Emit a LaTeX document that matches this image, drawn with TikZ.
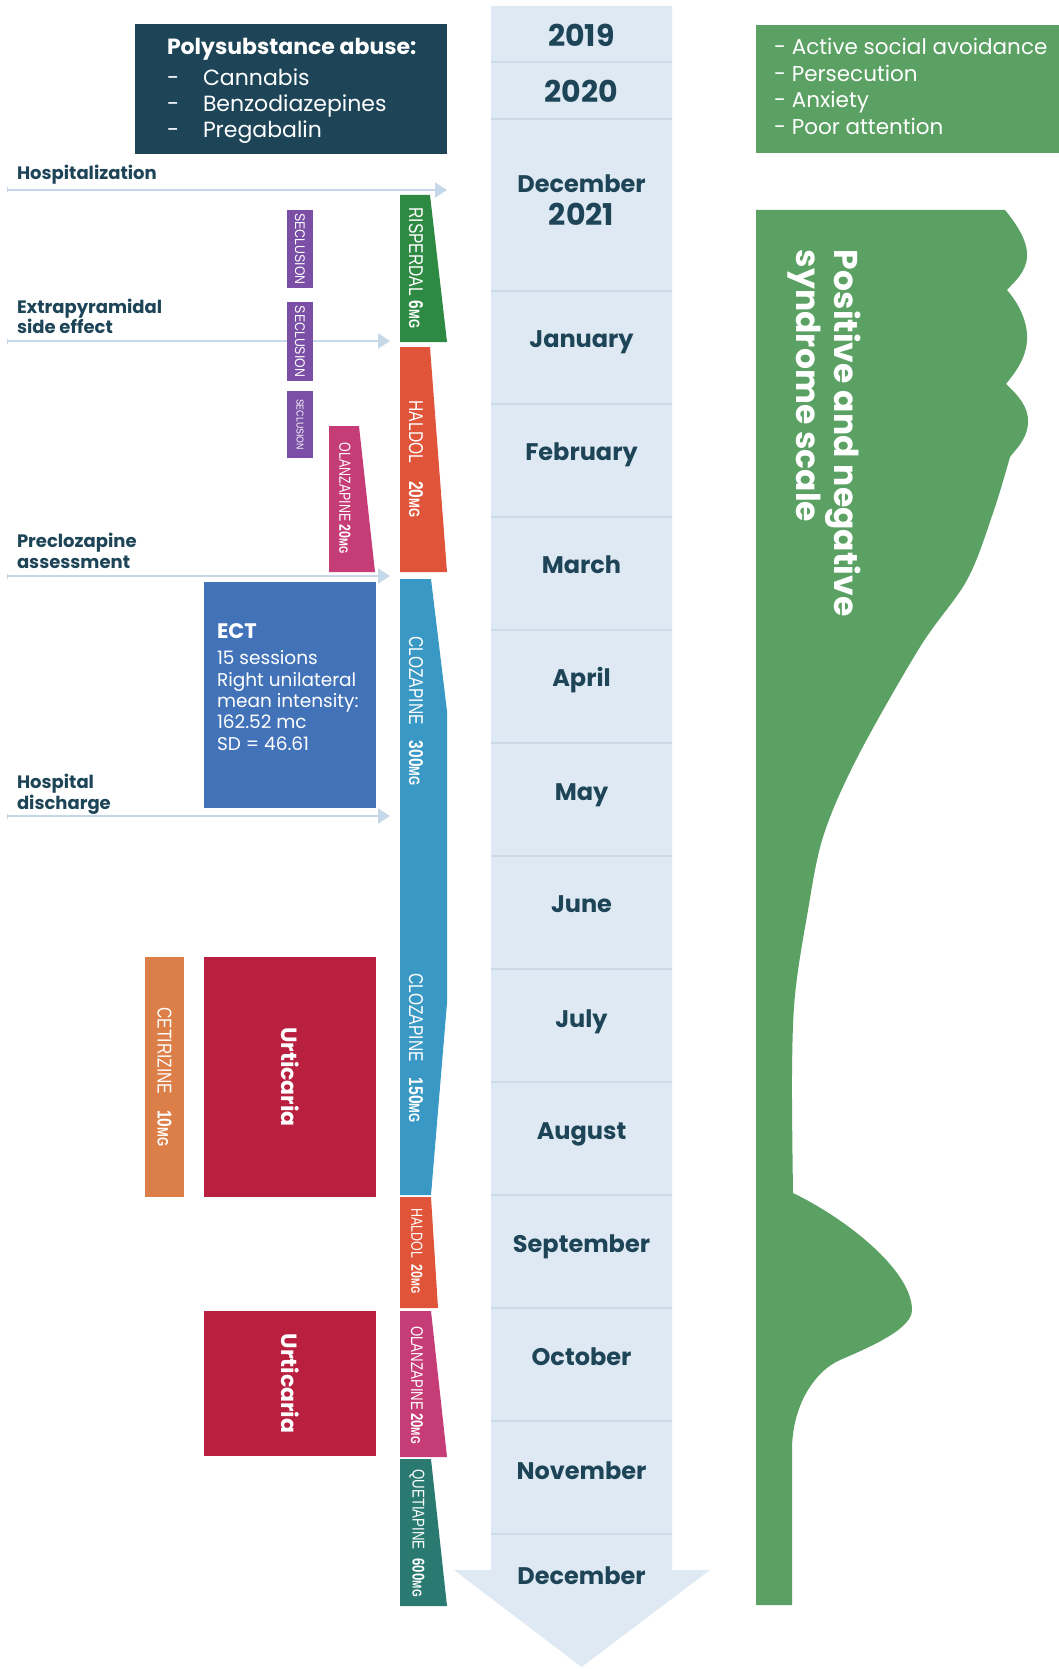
\documentclass[tikz,border=0pt]{standalone}
\usepackage{fontspec}
\setmainfont{Poppins}
\newfontfamily\drugfont{Liberation Sans}[FakeStretch=0.78]
\newfontfamily\tagfont{Liberation Sans}[FakeStretch=0.88]
\usetikzlibrary{arrows.meta}

\definecolor{ink}{HTML}{1D4557}
\definecolor{lane}{HTML}{DFE9F3}
\definecolor{laneline}{HTML}{CCDAE8}
\definecolor{markblue}{HTML}{C6D8E8}
\definecolor{panss}{HTML}{5AA163}
\definecolor{risp}{HTML}{2E8A42}
\definecolor{hal}{HTML}{E0553A}
\definecolor{olz}{HTML}{C63C76}
\definecolor{secl}{HTML}{7B4FA5}
\definecolor{ectblue}{HTML}{4273B9}
\definecolor{cloz}{HTML}{3A98C4}
\definecolor{ceti}{HTML}{DC7E47}
\definecolor{urti}{HTML}{B91F3F}
\definecolor{quet}{HTML}{2A7A72}

% drug label: size, name, gap, dose (unit set smaller)
\newcommand\druglbl[4]{\fontsize{#1}{#1}\selectfont #2\hspace{#3}\textbf{#4}\scalebox{0.75}{\bfseries MG}}

\begin{document}
\begin{tikzpicture}[x=1pt,y=-1pt,
  every node/.style={inner sep=0pt, outer sep=0pt},
  druglabel/.style={rotate=-90, text=white, font=\drugfont},
  tagbox/.style={rotate=-90, text=white, minimum width=#1},
  marker/.style={draw=markblue, line width=2pt,
    {Bar[width=5pt,line width=1pt]}-{Triangle[length=12pt,width=15pt]}},
  sidelabel/.style={anchor=base west, text=ink, font=\bfseries\fontsize{18}{22}\selectfont},
  month/.style={anchor=base, text=ink, font=\bfseries\fontsize{24}{28}\selectfont},
  year/.style={anchor=base, text=ink, font=\bfseries\fontsize{30}{34}\selectfont},
  polyline/.style={anchor=base west, text=white, font=\fontsize{22}{26}\selectfont},
  symline/.style={anchor=base west, text=white, font=\fontsize{21.5}{26}\selectfont},
  ectline/.style={anchor=base west, text=white, font=\fontsize{18.5}{22}\selectfont},
]
\useasboundingbox (0,0) rectangle (1059,1669);

% ---------- timeline lane ----------
\fill[lane] (491,6) -- (672,6) -- (672,1570) -- (710,1570) -- (581.5,1667)
  -- (454,1570) -- (491,1570) -- cycle;
\foreach \yy in {62,119,291,404,517,630,743,856,969,1082,1195,1308,1421,1534}
  \draw[laneline, line width=1.2pt] (491,\yy) -- (672,\yy);

\node[year]  (y2019) at (581.5,47)   {2019};
\node[year]  (y2020) at (581.5,103)  {2020};
\node[month] (mdec0) at (581.5,193)  {December};
\node[year]  (y2021) at (581.5,226)  {2021};
\node[month] (mjan)  at (581.5,347)  {January};
\node[month] (mfeb)  at (581.5,460)  {February};
\node[month] (mmar)  at (581.5,573)  {March};
\node[month] (mapr)  at (581.5,686)  {April};
\node[month] (mmay)  at (581.5,800)  {May};
\node[month] (mjun)  at (581.5,912)  {June};
\node[month] (mjul)  at (581.5,1027) {July};
\node[month] (maug)  at (581.5,1139) {August};
\node[month] (msep)  at (581.5,1252) {September};
\node[month] (moct)  at (581.5,1365) {October};
\node[month] (mnov)  at (581.5,1479) {November};
\node[month] (mdec)  at (581.5,1584) {December};

% ---------- substance box ----------
\node[fill=ink, minimum width=312pt, minimum height=130pt, anchor=north west] (poly) at (135,24) {};
\node[anchor=base west, text=white, font=\bfseries\fontsize{22}{26}\selectfont] (polyhead) at (167,55) {Polysubstance abuse:};
\node[polyline] (pd1) at (167,86)  {-};
\node[polyline] (pd2) at (167,112) {-};
\node[polyline] (pd3) at (167,138) {-};
\node[polyline] (p1) at (203,86)  {Cannabis};
\node[polyline] (p2) at (203,112) {Benzodiazepines};
\node[polyline] (p3) at (203,138) {Pregabalin};

% ---------- symptom box ----------
\node[fill=panss, minimum width=303pt, minimum height=128pt, anchor=north west] (symptoms) at (756,25) {};
\node[symline] (s1) at (774,55)  {-\hspace{6pt}Active social avoidance};
\node[symline] (s2) at (774,82)  {-\hspace{6pt}Persecution};
\node[symline] (s3) at (774,108) {-\hspace{6pt}Anxiety};
\node[symline] (s4) at (774,135) {-\hspace{6pt}Poor attention};

% ---------- event markers ----------
\coordinate (hospA) at (7,190);   \coordinate (hospB) at (447,190);
\coordinate (epsA)  at (7,341);   \coordinate (epsB)  at (390,341);
\coordinate (preA)  at (7,576);   \coordinate (preB)  at (390,576);
\coordinate (disA)  at (7,816);   \coordinate (disB)  at (390,816);
\draw[marker] (hospA) -- (hospB);
\draw[marker] (epsA) -- (epsB);
\draw[marker] (preA) -- (preB);
\draw[marker] (disA) -- (disB);

\node[sidelabel] (lhosp) at (17,180) {Hospitalization};
\node[sidelabel] (leps1) at (17,313) {Extrapyramidal};
\node[sidelabel] (leps2) at (17,334) {side effect};
\node[sidelabel] (lpre1) at (17,547) {Preclozapine};
\node[sidelabel] (lpre2) at (17,568) {assessment};
\node[sidelabel] (ldis1) at (17,788) {Hospital};
\node[sidelabel] (ldis2) at (17,809) {discharge};

% ---------- seclusion ----------
\node[tagbox=78pt, minimum height=26pt, fill=secl, font=\tagfont\fontsize{14}{14}\selectfont] (sec1) at (300,249) {SECLUSION};
\node[tagbox=79pt, minimum height=26pt, fill=secl, font=\tagfont\fontsize{14}{14}\selectfont] (sec2) at (300,341.5) {SECLUSION};
\node[tagbox=67pt, minimum height=26pt, fill=secl, font=\tagfont\fontsize{10}{10}\selectfont] (sec3) at (300,424.5) {SECLUSION};

% ---------- medication bars ----------
\fill[risp] (400,195) -- (430,195) -- (447,342) -- (400,342) -- cycle;
\fill[hal]  (400,347) -- (430,347) -- (447,572) -- (400,572) -- cycle;
\fill[olz]  (329,426) -- (359,426) -- (375,572) -- (329,572) -- cycle;
\fill[cloz] (400,579) -- (431,579) -- (447,711) -- (447,1003) -- (431,1195) -- (400,1195) -- cycle;
\fill[hal]  (400,1197) -- (431,1197) -- (438,1308) -- (400,1308) -- cycle;
\fill[olz]  (400,1311) -- (431,1311) -- (447,1457) -- (400,1457) -- cycle;
\fill[quet] (400,1459) -- (431,1459) -- (447,1606) -- (400,1606) -- cycle;

\node[druglabel] (risplbl) at (416,268)  {\druglbl{20}{RISPERDAL}{5pt}{6}};
\node[druglabel] (hal1lbl) at (416,459)  {\druglbl{20}{HALDOL}{18pt}{20}};
\node[druglabel] (olz1lbl) at (345,498)  {\druglbl{16}{OLANZAPINE}{3pt}{20}};
\node[druglabel] (cz1lbl)  at (416,711)  {\druglbl{20}{CLOZAPINE}{16pt}{300}};
\node[druglabel] (cz2lbl)  at (416,1048) {\druglbl{20}{CLOZAPINE}{16pt}{150}};
\node[druglabel] (hal2lbl) at (417,1251) {\druglbl{16}{HALDOL}{6pt}{20}};
\node[druglabel] (olz2lbl) at (417,1385) {\druglbl{17}{OLANZAPINE}{3pt}{20}};
\node[druglabel] (quetlbl) at (417,1533) {\druglbl{17}{QUETIAPINE}{9pt}{600}};

% ---------- ECT ----------
\node[fill=ectblue, minimum width=172pt, minimum height=226pt, anchor=north west] (ect) at (204,582) {};
\node[anchor=base west, text=white, font=\bfseries\fontsize{21}{24}\selectfont] (ecthead) at (217,638) {ECT};
\node[ectline] (e1) at (217,664) {15 sessions};
\node[ectline] (e2) at (217,686) {Right unilateral};
\node[ectline] (e3) at (217,707) {mean intensity:};
\node[ectline] (e4) at (217,728) {162.52 mc};
\node[ectline] (e5) at (217,750) {SD = 46.61};

% ---------- urticaria episodes ----------
\node[tagbox=240pt, minimum height=39pt, fill=ceti, font=\drugfont] (ceti) at (164.5,1077) {\druglbl{20}{CETIRIZINE}{16pt}{10}};
\node[tagbox=240pt, minimum height=172pt, fill=urti, font=\bfseries\fontsize{22}{22}\selectfont] (urt1) at (290,1077) {Urticaria};
\node[tagbox=145pt, minimum height=172pt, fill=urti, font=\bfseries\fontsize{22}{22}\selectfont] (urt2) at (290,1383.5) {Urticaria};

% ---------- PANSS profile ----------
\fill[panss] (756,210) -- (1005,210)
  .. controls (1018,226) and (1028,242) .. (1027,257)
  .. controls (1026,273) and (1013,283) .. (1007,290)
  .. controls (1019,304) and (1028,322) .. (1027,340)
  .. controls (1026,360) and (1013,375) .. (1006,384)
  .. controls (1019,396) and (1029,408) .. (1028,423)
  .. controls (1027,440) and (1015,450) .. (1010,457)
  -- plot[smooth, tension=0.55] coordinates {(1010,457) (993,513) (967,580) (920,647) (857,758) (823,837) (807,916) (795,995) (792,1074) (793,1193)}
  .. controls (845,1218) and (912,1270) .. (912,1310)
  .. controls (912,1328) and (875,1345) .. (840,1360)
  .. controls (815,1371) and (792,1405) .. (792,1450)
  -- (792,1605) -- (756,1605) -- cycle;

\node[anchor=base west, rotate=-90, text=white, font=\bfseries\fontsize{33}{33}\selectfont] (panss1) at (834,250) {Positive and negative};
\node[anchor=base west, rotate=-90, text=white, font=\bfseries\fontsize{33}{33}\selectfont] (panss2) at (796,250) {syndrome scale};
\end{tikzpicture}
\end{document}
